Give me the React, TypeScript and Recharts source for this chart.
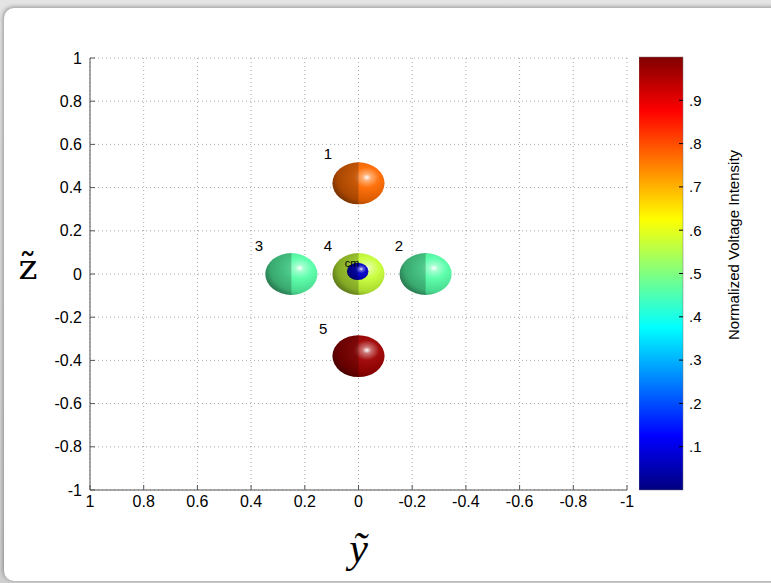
import React from "react";
import {
  ScatterChart,
  Scatter,
  XAxis,
  YAxis,
  CartesianGrid,
  BarChart,
  Bar,
  Label,
} from "recharts";

// axis ticks
const axisTicks = [-1, -0.8, -0.6, -0.4, -0.2, 0, 0.2, 0.4, 0.6, 0.8, 1];
const colorbarTicks = [0.1, 0.2, 0.3, 0.4, 0.5, 0.6, 0.7, 0.8, 0.9];

// electrodes (spheres)
const sphereIds = ["1", "2", "3", "4", "5"];
const sphereY = [0, -0.25, 0.25, 0, 0];
const sphereZ = [0.42, 0, 0, 0, -0.38];
const sphereIntensity = [0.77, 0.46, 0.46, 0.57, 0.97];
const sphereRadius = 0.097;

// centre of mass marker
const cmY = 0.003;
const cmZ = 0.012;
const cmIntensity = 0.07;
const cmRadius = 0.04;

// text labels
const labelText = ["1", "2", "3", "4", "5", "cm"];
const labelY = [0.114, -0.151, 0.371, 0.114, 0.132, 0.024];
const labelZ = [0.56, 0.13, 0.13, 0.13, -0.25, 0.051];

const W = 771;
const H = 583;
const M = { top: 58, right: 144, bottom: 53, left: 30 };
const Y_AXIS_W = 60;
const X_AXIS_H = 40;
const PLOT_W = W - M.left - M.right - Y_AXIS_W;
const PLOT_H = H - M.top - M.bottom - X_AXIS_H;
const PX_Y = PLOT_W / 2;
const PX_Z = PLOT_H / 2;

const FONT = "'Liberation Sans', Arial, Helvetica, sans-serif";

const spheres = sphereIds.map((id, i) => ({
  id,
  y: sphereY[i],
  z: sphereZ[i],
  v: sphereIntensity[i],
  r: sphereRadius,
}));
const cmPoint = [{ id: "cm", y: cmY, z: cmZ, v: cmIntensity, r: cmRadius }];
const labels = labelText.map((t, i) => ({ t, y: labelY[i], z: labelZ[i] }));

// jet colormap
function jet(v: number): [number, number, number] {
  const clamp = (x: number) => Math.max(0, Math.min(1, x));
  const r = clamp(Math.min(4 * v - 1.5, -4 * v + 4.5));
  const g = clamp(Math.min(4 * v - 0.5, -4 * v + 3.5));
  const b = clamp(Math.min(4 * v + 0.5, -4 * v + 2.5));
  return [r * 255, g * 255, b * 255];
}
const rgb = (c: number[]) => `rgb(${c.map((x) => Math.round(x)).join(",")})`;
const mix = (c: number[], t: number[], k: number) => c.map((x, i) => x + (t[i] - x) * k);

const jetStops = [0, 0.125, 0.25, 0.375, 0.5, 0.625, 0.75, 0.875, 1];

function Sphere(props: any) {
  const { cx, cy, payload } = props;
  if (cx == null || cy == null) return null;
  const rx = payload.r * PX_Y;
  const ry = payload.r * PX_Z;
  const c = jet(payload.v);
  const id = `sph-${payload.id}`;
  return (
    <g>
      <defs>
        <radialGradient id={id} cx="0.66" cy="0.36" r="0.8" fx="0.66" fy="0.36">
          <stop offset="0" stopColor="#ffffff" />
          <stop offset="0.1" stopColor={rgb(mix(c, [255, 255, 255], 0.45))} />
          <stop offset="0.3" stopColor={rgb(mix(c, [255, 255, 255], 0.05))} />
          <stop offset="0.7" stopColor={rgb(mix(c, [0, 0, 0], 0.15))} />
          <stop offset="1" stopColor={rgb(mix(c, [0, 0, 0], 0.55))} />
        </radialGradient>
      </defs>
      <ellipse cx={cx} cy={cy} rx={rx} ry={ry} fill={`url(#${id})`} />
      <path
        d={`M ${cx} ${cy - ry} A ${rx} ${ry} 0 0 0 ${cx} ${cy + ry} Z`}
        fill="#000"
        opacity={0.22}
      />
    </g>
  );
}

function TextMark(props: any) {
  const { cx, cy, payload } = props;
  if (cx == null || cy == null) return null;
  const small = payload.t === "cm";
  return (
    <text
      x={cx}
      y={cy}
      textAnchor="middle"
      dominantBaseline="central"
      fontFamily={FONT}
      fontSize={small ? 11 : 15}
      fill="#000"
    >
      {payload.t}
    </text>
  );
}

const tickStyle = { fontSize: 16, fill: "#000", fontFamily: FONT };

export default function App() {
  return (
    <div
      style={{
        position: "absolute",
        left: 0,
        top: 0,
        width: W,
        height: H,
        overflow: "hidden",
        background: "linear-gradient(#e4e4e4, #cfcfcf)",
      }}
    >
      <div
        style={{
          position: "absolute",
          left: 4,
          top: 8,
          width: W + 20,
          height: H - 10,
          background: "#fff",
          borderRadius: 10,
          boxShadow: "-1px -1px 4px rgba(0,0,0,0.35)",
        }}
      />
      <div style={{ position: "absolute", left: 0, top: 0 }}>
        <ScatterChart width={W} height={H} margin={M}>
          <CartesianGrid stroke="#a8a8a8" strokeDasharray="1 3" />
          <XAxis
            type="number"
            dataKey="y"
            domain={[-1, 1]}
            ticks={axisTicks}
            reversed
            interval={0}
            height={X_AXIS_H}
            allowDataOverflow
            stroke="#555"
            tickSize={-5}
            tickMargin={11}
            tick={tickStyle}
          >
            <Label
              content={({ viewBox }: any) => (
                <text
                  x={viewBox.x + viewBox.width / 2}
                  y={548}
                  textAnchor="middle"
                  dominantBaseline="central"
                  fontFamily="'Liberation Serif', 'DejaVu Serif', serif"
                  fontStyle="italic"
                  fontSize={42}
                  fill="#000"
                >
                  ỹ
                </text>
              )}
            />
          </XAxis>
          <YAxis
            type="number"
            dataKey="z"
            domain={[-1, 1]}
            ticks={axisTicks}
            interval={0}
            width={Y_AXIS_W}
            allowDataOverflow
            stroke="#555"
            tickSize={-5}
            tickMargin={13}
            tick={tickStyle}
          >
            <Label
              content={() => (
                <text
                  x={28}
                  y={266}
                  textAnchor="middle"
                  dominantBaseline="central"
                  fontFamily="'DejaVu Serif', 'Liberation Serif', serif"
                  fontSize={36}
                  fill="#000"
                >
                  z̃
                </text>
              )}
            />
          </YAxis>
          <Scatter data={spheres} shape={Sphere} isAnimationActive={false} />
          <Scatter data={cmPoint} shape={Sphere} isAnimationActive={false} />
          <Scatter data={labels} shape={TextMark} isAnimationActive={false} />
        </ScatterChart>
      </div>
      <div style={{ position: "absolute", left: 639, top: 0 }}>
        <BarChart
          width={140}
          height={H}
          data={[{ name: "bar", v: 1 }]}
          margin={{ top: 57, right: 36, bottom: 93, left: 0 }}
          barCategoryGap={0}
        >
          <defs>
            <linearGradient id="jetGrad" x1="0" y1="1" x2="0" y2="0">
              {jetStops.map((s) => (
                <stop key={s} offset={s} stopColor={rgb(jet(s))} />
              ))}
            </linearGradient>
          </defs>
          <XAxis dataKey="name" hide />
          <YAxis
            orientation="right"
            type="number"
            domain={[0, 1]}
            ticks={colorbarTicks}
            interval={0}
            width={60}
            axisLine={false}
            tickLine={{ stroke: "#000" }}
            tickSize={-4}
            tickMargin={10}
            tick={{ ...tickStyle, fontSize: 15, textAnchor: "start" }}
            tickFormatter={(v: number) => String(v).replace(/^0/, "")}
          >
            <Label
              content={({ viewBox }: any) => {
                const x = viewBox.x + 50;
                const y = 245;
                return (
                  <text
                    x={x}
                    y={y}
                    transform={`rotate(-90 ${x} ${y})`}
                    textAnchor="middle"
                    dominantBaseline="central"
                    fontFamily={FONT}
                    fontSize={15}
                    fill="#000"
                  >
                    Normalized Voltage Intensity
                  </text>
                );
              }}
            />
          </YAxis>
          <Bar dataKey="v" fill="url(#jetGrad)" stroke="#777" strokeWidth={0.5} isAnimationActive={false} />
        </BarChart>
      </div>
    </div>
  );
}
